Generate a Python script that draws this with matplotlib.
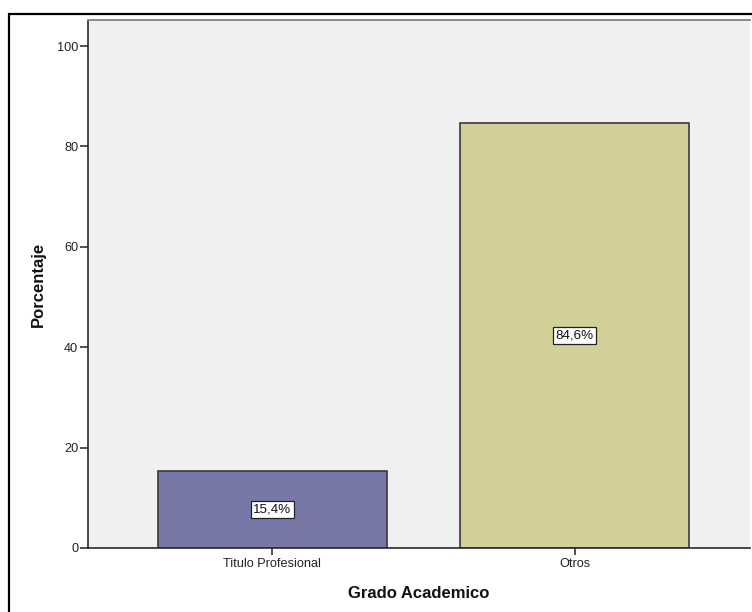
import matplotlib
matplotlib.use("Agg")
import matplotlib.pyplot as plt
from matplotlib.patches import Rectangle

plt.rcParams['font.family'] = ['Liberation Sans', 'DejaVu Sans']

categories = ["Titulo Profesional", "Otros"]
percentages = [15.4, 84.6]
bar_colors = ["#7878a8", "#d3cf98"]
value_labels = ["15,4%", "84,6%"]
y_ticks = [0, 20, 40, 60, 80, 100]

W, H = 752, 612
fig = plt.figure(figsize=(W / 100, H / 100), dpi=100)
fig.patch.set_facecolor("white")

# outer frame of the chart (only left and top edges fall inside the canvas)
fig.add_artist(Rectangle((8.5 / W, -0.1), 1.2, 1.1 - 13.5 / H,
                         transform=fig.transFigure, fill=False,
                         edgecolor="black", linewidth=1.6))

left, right, bottom, top = 88 / W, 750 / W, (H - 548) / H, (H - 20) / H
ax = fig.add_axes([left, bottom, right - left, top - bottom])
ax.set_facecolor("#f0f0f0")

x = list(range(len(categories)))
bars = ax.bar(x, percentages, width=0.756, color=bar_colors,
              edgecolor="#3a3a3a", linewidth=1.2, zorder=2)

for xi, val, lab in zip(x, percentages, value_labels):
    ax.text(xi, val / 2, lab, ha="center", va="center", fontsize=9.6,
            color="#111111", zorder=3,
            bbox=dict(boxstyle="square,pad=0.2", facecolor="white",
                      edgecolor="#222222", linewidth=0.9))

ax.set_xlim(-0.61, 1.58)
ax.set_ylim(0, 105.2)
ax.set_xticks(x)
ax.set_xticklabels(categories)
ax.set_yticks(y_ticks)
ax.set_yticklabels([str(t) for t in y_ticks])

ax.tick_params(axis="y", direction="out", length=6, width=1.1, pad=1,
               labelsize=9.2, colors="#222222")
ax.tick_params(axis="x", direction="out", length=5, width=1.1, pad=2,
               labelsize=9.2, colors="#222222")

for side in ("left", "bottom"):
    ax.spines[side].set_color("#2a2a2a")
    ax.spines[side].set_linewidth(1.2)
ax.spines["top"].set_color("#8a8a8a")
ax.spines["top"].set_linewidth(1.4)
ax.spines["right"].set_visible(False)

ax.set_xlabel("Grado Academico", fontsize=12, fontweight="bold",
              color="#111111", labelpad=12)
ax.set_ylabel("Porcentaje", fontsize=12, fontweight="bold",
              color="#111111", labelpad=8)

fig.savefig("out.png", dpi=100)
